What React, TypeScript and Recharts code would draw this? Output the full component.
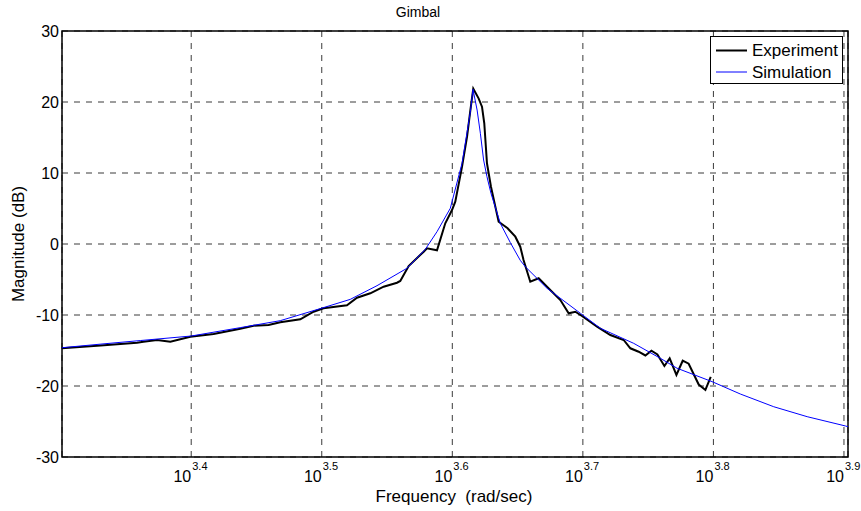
import React from "react";
import { LineChart, Line, XAxis, YAxis, CartesianGrid, ReferenceArea } from "recharts";

// measured experiment (rad/sec, dB)
const expFreq = [
  2000, 2141, 2283, 2309, 2365, 2421, 2508, 2613, 2739, 2804,
  2879, 2939, 3045, 3117, 3172, 3306, 3365, 3445, 3527, 3611,
  3632, 3686, 3785, 3807, 3875, 3932, 3979, 4002, 4050, 4086,
  4110, 4131, 4170, 4195, 4212, 4232, 4262, 4320, 4389, 4449,
  4488, 4514, 4568, 4636, 4705, 4817, 4888, 4946, 5004, 5139,
  5261, 5386, 5450, 5530, 5596, 5656, 5716, 5787, 5841, 5911,
  5977, 6040, 6148, 6221, 6280,
];
const expMag = [
  -14.7, -14.3, -13.9, -13.76, -13.52, -13.76, -13.06, -12.68, -11.93, -11.51,
  -11.41, -11.03, -10.61, -9.54, -9.06, -8.63, -7.56, -6.94, -6.01, -5.45,
  -5.21, -3.1, -1.08, -0.61, -0.89, 2.92, 4.79, 5.96, 10.89, 15.11,
  18.87, 21.87, 20.52, 19.34, 17.0, 11.37, 8.07, 3.14, 2.21, 1.03,
  -0.38, -2.25, -5.31, -4.83, -6.01, -7.89, -9.76, -9.54, -10.14, -11.65,
  -12.82, -13.52, -14.69, -15.17, -15.7, -15.03, -15.56, -17.18, -16.1, -18.45,
  -16.44, -16.86, -19.79, -20.56, -18.73,
];

// model response
const simFreq = [
  2000, 2139, 2296, 2512, 2739, 2939, 3154, 3325, 3486, 3675,
  3796, 3875, 3967, 4050, 4110, 4129, 4159, 4183, 4207, 4232,
  4262, 4333, 4410, 4488, 4528, 4705, 4990, 5169, 5482, 5746,
  5918, 6295, 6617, 7018, 7444, 7964, 8000,
];
const simMag = [
  -14.61, -14.11, -13.6, -12.96, -11.78, -10.8, -9.1, -7.8, -5.87, -3.42,
  -0.75, 1.73, 5.03, 11.37, 18.63, 21.79, 18.87, 15.59, 11.83, 9.48,
  7.14, 2.9, 0.2, -2.3, -3.2, -6.24, -9.76, -11.87, -13.99, -16.1,
  -17.5, -19.39, -21.13, -22.92, -24.32, -25.63, -25.73,
];

const xExponents = [3.4, 3.5, 3.6, 3.7, 3.8, 3.9];
const yTicks = [-30, -20, -10, 0, 10, 20, 30];

const FONT = "'Liberation Sans', Arial, Helvetica, sans-serif";

const expData = expFreq.map((f, i) => ({ f, mag: expMag[i] }));
const simData = simFreq.map((f, i) => ({ f, mag: simMag[i] }));
const xTicks = xExponents.map((e) => Math.pow(10, e));

const FreqTick = (props: any) => {
  const { x, y, payload } = props;
  const exp = Math.log10(payload.value).toFixed(1);
  return (
    <g fontFamily={FONT} fill="#000">
      <text x={x} y={y + 25} textAnchor="end" fontSize={16}>10</text>
      <text x={x + 1} y={y + 13} fontSize={11}>{exp}</text>
    </g>
  );
};

const W = 861;
const H = 511;

export default function App() {
  return (
    <div style={{ position: "absolute", left: 0, top: 0, width: W, height: H, background: "#fff" }}>
      <LineChart width={W} height={H} margin={{ top: 31, right: 13, left: 0, bottom: 0 }}>
        <CartesianGrid stroke="#3a3a3a" strokeDasharray="6 6" />
        <XAxis
          dataKey="f"
          type="number"
          scale="log"
          domain={[2000, 8000]}
          ticks={xTicks}
          interval={0}
          allowDataOverflow
          height={54}
          tickSize={0}
          tickMargin={0}
          axisLine={false}
          tick={<FreqTick />}
        />
        <YAxis
          type="number"
          domain={[-30, 30]}
          ticks={yTicks}
          interval={0}
          width={62}
          tickSize={0}
          tickMargin={3}
          axisLine={false}
          tick={{ fontSize: 16, fill: "#000", fontFamily: FONT }}
        />
        <ReferenceArea x1={2000} x2={8000} y1={-30} y2={30} fill="none" stroke="#000" strokeWidth={1.5} />
        <Line data={expData} dataKey="mag" stroke="#000" strokeWidth={2} dot={false} type="linear" isAnimationActive={false} />
        <Line data={simData} dataKey="mag" stroke="#0000ff" strokeWidth={1} dot={false} type="linear" isAnimationActive={false} />
      </LineChart>
      <svg width={W} height={H} style={{ position: "absolute", left: 0, top: 0, pointerEvents: "none" }} fontFamily={FONT}>
        <text x={418} y={17} textAnchor="middle" fontSize={14}>Gimbal</text>
        <text x={454} y={502} textAnchor="middle" fontSize={17} style={{ whiteSpace: "pre" }}>Frequency  (rad/sec)</text>
        <text transform="translate(24,244) rotate(-90)" textAnchor="middle" fontSize={17}>Magnitude (dB)</text>
        <rect x={710.5} y={36.5} width={132} height={47} fill="#fff" stroke="#000" />
        <line x1={716} x2={747} y1={50.5} y2={50.5} stroke="#000" strokeWidth={2} />
        <text x={752} y={56} fontSize={17}>Experiment</text>
        <line x1={716} x2={747} y1={72} y2={72} stroke="#0000ff" strokeWidth={1} />
        <text x={752} y={78} fontSize={17}>Simulation</text>
      </svg>
    </div>
  );
}
